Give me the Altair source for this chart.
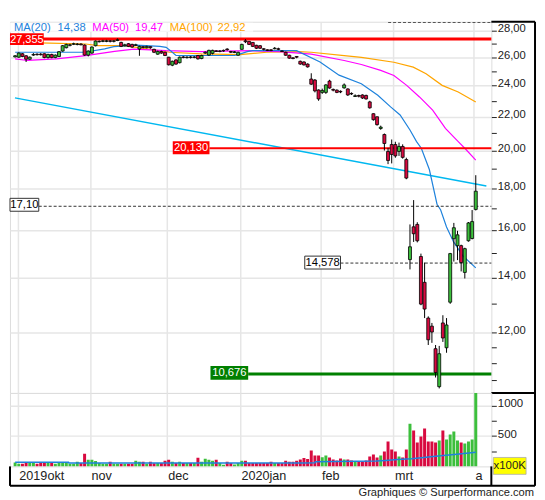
import json
import altair as alt
import pandas as pd

# ---------------- data ----------------
# trading-day index (0 = 1 Oct 2019); chart shows 3 Oct 2019 .. 1 Apr 2020
DAY = list(range(2, 129))
OPEN = [26.02, 26.00, 26.25, 26.10, 25.85, 26.15, 26.22, 26.22, 26.25, 25.97,
        26.20, 25.97, 26.05, 26.45, 26.70, 26.88, 26.96, 26.94, 26.98, 26.90,
        26.15, 26.30, 26.85, 27.15, 27.18, 27.18, 27.22, 27.18, 27.25, 27.10,
        26.85, 27.00, 26.95, 26.88, 26.60, 26.78, 26.70, 26.78, 26.58, 26.22,
        26.42, 26.36, 26.00, 25.42, 25.80, 25.60, 26.02, 25.97, 26.02, 25.98,
        26.12, 25.90, 26.30, 26.15, 26.28, 26.47, 26.42, 26.46, 26.60, 26.42,
        26.35, 26.14, 26.58, 27.22, 27.18, 27.10, 26.88, 26.85, 26.62, 26.54,
        26.54, 26.62, 26.62, 26.46, 26.36, 26.14, 25.95, 26.05, 25.70, 25.65,
        25.50, 24.45, 24.38, 23.71, 23.55, 23.55, 24.31, 23.75, 23.70, 23.62,
        23.85, 23.78, 23.48, 23.28, 23.34, 23.38, 23.35, 22.93, 22.18, 21.99,
        21.28, 20.92, 19.95, 20.34, 20.34, 19.95, 20.23, 19.50, 14.72, 16.14,
        16.25, 14.85, 13.81, 12.49, 12.21, 11.46, 10.30, 12.32, 11.49, 13.06,
        15.61, 15.31, 15.31, 14.20, 15.52, 15.62, 16.95]
HIGH = [26.15, 26.35, 26.30, 26.15, 26.05, 26.30, 26.28, 26.30, 26.28, 26.25,
        26.25, 26.20, 26.45, 26.90, 27.00, 27.00, 27.08, 27.05, 27.03, 26.95,
        26.50, 26.80, 27.25, 27.25, 27.30, 27.30, 27.28, 27.28, 27.40, 27.15,
        27.00, 27.05, 27.00, 27.00, 26.85, 26.82, 26.85, 26.80, 26.62, 26.48,
        26.48, 26.40, 26.02, 25.75, 25.85, 26.05, 26.08, 26.06, 26.08, 26.08,
        26.16, 26.18, 26.42, 26.55, 26.55, 26.52, 26.52, 26.56, 26.66, 26.46,
        26.45, 26.40, 27.00, 27.35, 27.20, 27.12, 26.92, 26.90, 26.66, 26.58,
        26.58, 26.75, 26.70, 26.50, 26.40, 26.18, 26.00, 26.08, 25.75, 25.70,
        25.55, 24.85, 24.45, 23.75, 23.80, 24.10, 24.40, 23.80, 23.75, 23.68,
        24.15, 23.82, 23.55, 23.42, 23.40, 23.42, 23.40, 23.00, 22.20, 22.00,
        21.45, 20.98, 20.15, 20.63, 20.50, 20.45, 20.35, 19.60, 16.25, 17.40,
        16.35, 14.97, 14.60, 12.55, 12.32, 11.58, 11.55, 12.59, 12.49, 15.00,
        16.32, 15.96, 15.35, 15.22, 16.36, 16.92, 18.66]
LOW = [25.98, 25.95, 26.00, 25.65, 25.80, 26.10, 26.12, 26.12, 25.92, 25.90,
       25.92, 25.92, 26.00, 26.40, 26.65, 26.80, 26.90, 26.88, 26.88, 26.10,
       26.05, 26.25, 26.80, 27.10, 27.12, 27.12, 27.10, 27.10, 27.20, 26.75,
       26.80, 26.75, 26.70, 26.85, 26.10, 26.65, 26.65, 26.62, 26.30, 26.18,
       26.25, 26.08, 25.40, 25.35, 25.45, 25.55, 25.92, 25.90, 25.90, 25.92,
       25.82, 25.85, 26.25, 26.10, 26.20, 26.38, 26.36, 26.40, 26.48, 26.30,
       26.30, 26.10, 26.55, 27.05, 26.90, 26.75, 26.60, 26.62, 26.50, 26.45,
       26.44, 26.58, 26.52, 26.38, 26.10, 25.88, 25.85, 25.92, 25.45, 25.40,
       25.25, 24.05, 23.55, 23.00, 23.45, 23.45, 23.80, 23.62, 23.50, 23.50,
       23.80, 23.32, 23.38, 23.25, 23.22, 23.12, 23.08, 22.50, 21.75, 21.45,
       21.20, 20.00, 19.25, 19.29, 19.60, 19.70, 19.55, 18.45, 14.32, 15.47,
       15.45, 12.95, 12.49, 11.58, 11.65, 10.57, 10.25, 11.68, 11.33, 13.00,
       14.64, 14.70, 14.24, 13.96, 15.48, 15.58, 16.90]
CLOSE = [26.10, 26.30, 26.05, 25.85, 26.00, 26.20, 26.18, 26.18, 25.97, 26.20,
         25.97, 26.15, 26.40, 26.85, 26.95, 26.92, 27.00, 26.98, 26.92, 26.15,
         26.45, 26.75, 27.20, 27.18, 27.22, 27.22, 27.18, 27.22, 27.30, 26.80,
         26.92, 26.80, 26.75, 26.92, 26.80, 26.72, 26.80, 26.70, 26.36, 26.42,
         26.30, 26.12, 25.45, 25.70, 25.50, 26.00, 25.98, 26.01, 25.98, 26.02,
         25.88, 26.12, 26.36, 26.50, 26.50, 26.42, 26.46, 26.50, 26.55, 26.36,
         26.39, 26.36, 26.95, 27.15, 26.95, 26.80, 26.66, 26.66, 26.58, 26.50,
         26.50, 26.66, 26.58, 26.42, 26.14, 25.93, 25.90, 26.00, 25.50, 25.44,
         25.30, 24.10, 23.65, 23.12, 23.68, 24.05, 23.84, 23.70, 23.55, 23.58,
         24.05, 23.38, 23.45, 23.33, 23.30, 23.18, 23.12, 22.55, 21.81, 21.51,
         21.36, 20.40, 19.45, 19.78, 19.70, 20.23, 19.62, 18.51, 15.26, 15.83,
         15.52, 12.99, 12.81, 11.75, 12.01, 10.72, 11.30, 11.81, 12.25, 14.97,
         16.10, 15.78, 14.60, 15.18, 16.32, 16.38, 17.84]
# volume in units of 100K
VOLUME = [65, 43, 43, 65, 65, 65, 43, 65, 65, 65,
          65, 43, 65, 65, 65, 43, 43, 76, 54, 206,
          109, 109, 87, 54, 43, 43, 76, 43, 43, 43,
          43, 43, 43, 92, 76, 76, 43, 76, 50,
          54, 54, 92, 109, 76, 54, 76, 54, 54, 54,
          54, 141, 76, 125, 109, 92, 109, 54, 27, 76,
          54, 33, 54, 92, 92, 54, 54, 54, 54, 54,
          54, 76, 54, 54, 54, 92, 76, 76, 92,
          114, 136, 120, 261, 179, 179, 152, 179, 147, 114,
          98, 130, 114, 114, 98, 82, 82, 82, 98, 163,
          196, 147, 179, 245, 408, 277, 245, 163, 147, 277,
          701, 587, 391, 489, 620, 408, 408, 391, 424, 587,
          440, 522, 571, 424, 391, 375, 408, 440, 1250]

MA20_DAY = [2, 21, 26.5, 29, 35, 41.6, 43.3, 45, 46, 62, 63.6, 65.5, 67, 79, 85.4,
            90.6, 96.7, 101.2, 104.7, 107.3, 110, 111.8, 113.1, 115.3, 117.4,
            118.4, 120, 121.9, 124.5, 128]
MA20 = [26.36, 26.36, 26.61, 26.78, 26.90, 26.80, 26.73, 26.36, 26.12, 26.12, 26.24,
        26.41, 26.48, 26.48, 25.65, 24.72, 24.13, 23.36, 22.61, 22.10, 21.19, 20.51,
        20.13, 18.96, 17.20, 16.92, 16.13, 15.48, 14.87, 14.38]
MA50_DAY = [2, 5.4, 13.3, 21.3, 29.2, 34.5, 43.3, 53, 66.3, 74.2, 83, 92, 96.7, 102,
            105.6, 109.1, 112.6, 116.2, 119.7, 123.2, 125, 128]
MA50 = [25.87, 25.76, 25.87, 26.11, 26.43, 26.60, 26.48, 26.41, 26.48, 26.41, 26.22,
        25.76, 25.47, 25.05, 24.70, 24.02, 23.25, 22.40, 21.29, 20.51, 20.13, 19.47]
MA100_DAY = [2, 11.5, 21.3, 24.7, 31.1, 35.3, 44.3, 53, 63.6, 70.8, 79.5, 83, 92, 96.7,
             105.6, 110.9, 114.4, 118.8, 123.2, 128]
MA100 = [27.10, 27.05, 26.98, 26.86, 26.86, 26.73, 26.36, 26.24, 26.19, 26.36, 26.41,
         26.36, 26.11, 25.99, 25.63, 25.28, 24.81, 24.02, 23.58, 22.92]
VOLMA_DAY = [2, 16.6, 16.7, 80.5, 84, 84.1, 100.7, 103.4, 106.5, 110.4, 113.1, 115.7,
             118.4, 122.8, 125.4, 128]
VOLMA = [70, 70, 54, 54, 60, 76, 87, 98, 114, 125, 141, 157, 174, 201, 217, 233]
TREND_DAY = [1.95, 130.9]
TREND = [23.19, 18.10]

LEVEL_RESIST = 27.355
LEVEL_MID = 20.130
LEVEL_LAST = 17.10
LEVEL_PIVOT = 14.578
LEVEL_SUPPORT = 10.676
LEVEL_TOP = 28.66

MONTH_POS = [2.75, 22.5, 43.5, 63.5, 85.5, 105.5, 127.5]
MONTH_LABELS = ["2019okt", "nov", "dec", "2020jan", "feb", "mrt", "a"]
PRICE_TICKS = [10.5, 11, 11.5, 12, 13, 14, 15, 16, 17, 18, 19, 20, 21, 22, 23, 24,
               25, 26, 27, 28]
VOL_TICKS = [250, 500, 750, 1000]
CREDIT = "Graphiques \u00a9 Surperformance.com"
UNIT = "x100K"

# ---------------- styling ----------------
W, H1, H2 = 485, 374, 74
GREEN = "#3cbf3c"
RED = "#d80a40"
BLUE = "#1e82dc"
MAGENTA = "#ff00ff"
ORANGE = "#ffa500"
TREND_C = "#00b8f0"
GRID = "#e6e6e6"
INK = "#222222"
FONT = "Liberation Sans"


def fmt(v, d):
    return f"{v:.{d}f}".replace(".", ",")


df = pd.DataFrame({"day": DAY, "open": OPEN, "high": HIGH, "low": LOW,
                   "close": CLOSE, "volume": VOLUME})
df["dir"] = ["up" if c >= o else "down" for o, c in zip(OPEN, CLOSE)]
ONE = pd.DataFrame({"k": [0]})

XS = alt.Scale(domain=[1.95, 130.9], nice=False, zero=False)
YS = alt.Scale(type="log", domain=[10.12, 28.72], nice=False)
VS = alt.Scale(domain=[0, 1205], nice=False)
CS = alt.Scale(domain=["up", "down"], range=[GREEN, RED])

x_grid_axis = alt.Axis(values=MONTH_POS, labels=False, ticks=False, domain=False,
                       grid=True, gridColor=GRID, gridWidth=1.5, title=None)
price_expr = ("(datum.value % 2 === 0 && datum.value >= 12) ? "
              "replace(format(datum.value, '.2f'), '.', ',') : ''")
y_axis = alt.Axis(orient="right", values=PRICE_TICKS, labelExpr=price_expr,
                  labelOverlap=False, tickSize=5, tickColor=INK, tickWidth=1,
                  labelPadding=1, labelFontSize=11.3, labelColor=INK, labelOffset=-2,
                  domain=False, grid=True,
                  gridColor={"condition": {"test": "datum.value % 2 === 0", "value": GRID},
                             "value": "transparent"},
                  gridWidth=1.5, title=None)

X = alt.X("day:Q", scale=XS, axis=x_grid_axis)


def Yf(field):
    return alt.Y(field, scale=YS, axis=y_axis)


def Yd(v):
    return alt.YDatum(v, type="quantitative", scale=YS, axis=y_axis)


def rule_px(x, x2, y, y2, **kw):
    return alt.Chart(ONE).mark_rule(**kw).encode(
        x=alt.value(x), x2=alt.value(x2), y=alt.value(y), y2=alt.value(y2))


def line_df(days, vals):
    return pd.DataFrame({"day": days, "v": vals})


layers = []
# moving averages and trend line
layers.append(alt.Chart(line_df(TREND_DAY, TREND)).mark_line(
    color=TREND_C, strokeWidth=1.5, clip=True).encode(x=X, y=Yf("v:Q")))
layers.append(alt.Chart(line_df(MA100_DAY, MA100)).mark_line(
    color=ORANGE, strokeWidth=1.2, clip=True).encode(x=X, y=Yf("v:Q")))
layers.append(alt.Chart(line_df(MA50_DAY, MA50)).mark_line(
    color=MAGENTA, strokeWidth=1.2, clip=True).encode(x=X, y=Yf("v:Q")))
layers.append(alt.Chart(line_df(MA20_DAY, MA20)).mark_line(
    color=BLUE, strokeWidth=1.2, clip=True).encode(x=X, y=Yf("v:Q")))

# level lines
layers.append(alt.Chart(ONE).mark_rule(color="#ff0000", strokeWidth=3).encode(
    y=Yd(LEVEL_RESIST), x=alt.value(0), x2=alt.value(W)))
layers.append(alt.Chart(ONE).mark_rule(color="#ff0000", strokeWidth=2).encode(
    y=Yd(LEVEL_MID), x=alt.value(201), x2=alt.value(W)))
layers.append(alt.Chart(ONE).mark_rule(color="#333333", strokeWidth=1, strokeDash=[3, 2]).encode(
    y=Yd(LEVEL_LAST), x=alt.value(29), x2=alt.value(W)))
layers.append(alt.Chart(ONE).mark_rule(color="#333333", strokeWidth=1, strokeDash=[3, 2]).encode(
    y=Yd(LEVEL_PIVOT), x=alt.value(333), x2=alt.value(W)))
layers.append(alt.Chart(ONE).mark_rule(color="#008000", strokeWidth=3).encode(
    y=Yd(LEVEL_SUPPORT), x=alt.value(240), x2=alt.value(W)))
layers.append(alt.Chart(ONE).mark_rule(color="#555555", strokeWidth=1, strokeDash=[3, 2]).encode(
    y=Yd(LEVEL_TOP), x=alt.value(381), x2=alt.value(W)))

# candles
layers.append(alt.Chart(df).mark_rule(color="black", strokeWidth=1, clip=True).encode(
    x=X, y=Yf("low:Q"), y2="high:Q"))
layers.append(alt.Chart(df).mark_bar(size=3, stroke="black", strokeWidth=0.8, clip=True).encode(
    x=X, y=Yf("open:Q"), y2="close:Q",
    color=alt.Color("dir:N", scale=CS, legend=None)))

# legend (drawn before the level boxes)
layers.append(alt.Chart(ONE).mark_rect(color="white", opacity=0.85).encode(
    x=alt.value(0), x2=alt.value(245), y=alt.value(1), y2=alt.value(10)))
legend_items = [("MA(20)", 4, BLUE), (fmt(MA20[-1], 2), 48, BLUE),
                ("MA(50)", 83, MAGENTA), (fmt(MA50[-1], 2), 126, MAGENTA),
                ("MA(100)", 161, ORANGE), (fmt(MA100[-1], 2), 209, ORANGE)]
for txt, px, col in legend_items:
    layers.append(alt.Chart(ONE).mark_text(text=txt, color=col, fontSize=11.3, align="left",
                                           baseline="middle").encode(
        x=alt.value(px), y=alt.value(6.5)))


# level label boxes
def level_box(level, x0, x1, fill, txt, txtcol, top=-7, bot=6, stroke=None, fs=11.3):
    kw = {"fill": fill, "yOffset": top, "y2Offset": bot}
    if stroke:
        kw["stroke"] = stroke
        kw["strokeWidth"] = 1
    box = alt.Chart(ONE).mark_rect(**kw).encode(
        x=alt.value(x0), x2=alt.value(x1), y=Yd(level), y2=alt.Y2Datum(level))
    text = alt.Chart(ONE).mark_text(text=txt, color=txtcol, fontSize=fs, align="center",
                                    baseline="middle", dy=(top + bot) / 2 + 0.5).encode(
        x=alt.value((x0 + x1) / 2), y=Yd(level))
    return [box, text]


layers += level_box(LEVEL_RESIST, 0, 34, "#ff0000", fmt(LEVEL_RESIST, 3), "white",
                    top=-6, bot=6, fs=11)
layers += level_box(LEVEL_MID, 164, 201, "#ff0000", fmt(LEVEL_MID, 3), "white")
layers += level_box(LEVEL_LAST, 0, 29, "white", fmt(LEVEL_LAST, 2), "black",
                    top=-8, bot=5, stroke="#333333")
layers += level_box(LEVEL_PIVOT, 297, 333, "white", fmt(LEVEL_PIVOT, 3), "black",
                    top=-7, bot=6, stroke="#333333")
layers += level_box(LEVEL_SUPPORT, 202, 240, "#008000", fmt(LEVEL_SUPPORT, 3), "white",
                    top=-8, bot=6)

# frame pieces around the right axis
layers.append(rule_px(529, 529, 0, H1, color="black", strokeWidth=2))
layers.append(rule_px(W, 529, 0, 0, color="black", strokeWidth=2))
layers.append(rule_px(W, 529, H1, H1, color="black", strokeWidth=2))

price = alt.layer(*layers).properties(width=W, height=H1)

# ---------------- volume panel ----------------
xlab_expr = f"{json.dumps(MONTH_LABELS)}[indexof({json.dumps(MONTH_POS)}, datum.value)]"
vol_x_axis = alt.Axis(values=MONTH_POS, labelExpr=xlab_expr, labelAlign="left",
                      labelFlush=False, labelOffset=1, labelPadding=3, labelFontSize=12.7,
                      labelColor=INK, labelOverlap=False, ticks=False, domain=False,
                      grid=True, gridColor=GRID, gridWidth=1.5, title=None)
vol_y_axis = alt.Axis(orient="right", values=VOL_TICKS,
                      labelExpr="datum.value % 500 === 0 ? format(datum.value, 'd') : ''",
                      labelOverlap=False, tickSize=5, tickColor=INK, labelPadding=1,
                      labelFontSize=11.5, labelColor=INK, labelOffset=-1.5, domain=False,
                      grid=True,
                      gridColor={"condition": {"test": "datum.value % 500 === 0", "value": GRID},
                                 "value": "transparent"},
                      gridWidth=1.5, title=None)
VX = alt.X("day:Q", scale=XS, axis=vol_x_axis)

H3 = H2 + 19.6
vlayers = [
    alt.Chart(df).mark_bar(size=3, clip=True).encode(
        x=VX, y=alt.Y("volume:Q", scale=VS, axis=vol_y_axis),
        color=alt.Color("dir:N", scale=CS, legend=None)),
    alt.Chart(line_df(VOLMA_DAY, VOLMA)).mark_line(color=BLUE, strokeWidth=1.5, clip=True).encode(
        x=VX, y=alt.Y("v:Q", scale=VS, axis=vol_y_axis)),
    alt.Chart(ONE).mark_rect(fill="#ffff00", stroke="#aaaaaa", strokeWidth=0.8).encode(
        x=alt.value(487), x2=alt.value(520), y=alt.value(65), y2=alt.value(82)),
    alt.Chart(ONE).mark_text(text=UNIT, color=INK, fontSize=11.5, align="center",
                             baseline="middle").encode(x=alt.value(503.5), y=alt.value(73.5)),
    alt.Chart(ONE).mark_text(text=CREDIT, color=INK, fontSize=11.2, align="right",
                             baseline="middle").encode(x=alt.value(528), y=alt.value(101)),
    rule_px(529, 529, 0, H3, color="black", strokeWidth=2),
    rule_px(0, 0, H2, H3, color="black", strokeWidth=2),
    rule_px(W, W, H2, H3, color="black", strokeWidth=2),
    rule_px(0, 529, H3, H3, color="black", strokeWidth=2),
]
volume = alt.layer(*vlayers).properties(width=W, height=H2)

chart = alt.vconcat(price, volume, spacing=0, bounds="flush").properties(
    padding={"left": 0, "top": 10, "right": 0, "bottom": 0}
).configure_view(stroke="black", strokeWidth=2).configure(font=FONT)

chart.save("out.html", embed_options={"renderer": "svg", "actions": False})
